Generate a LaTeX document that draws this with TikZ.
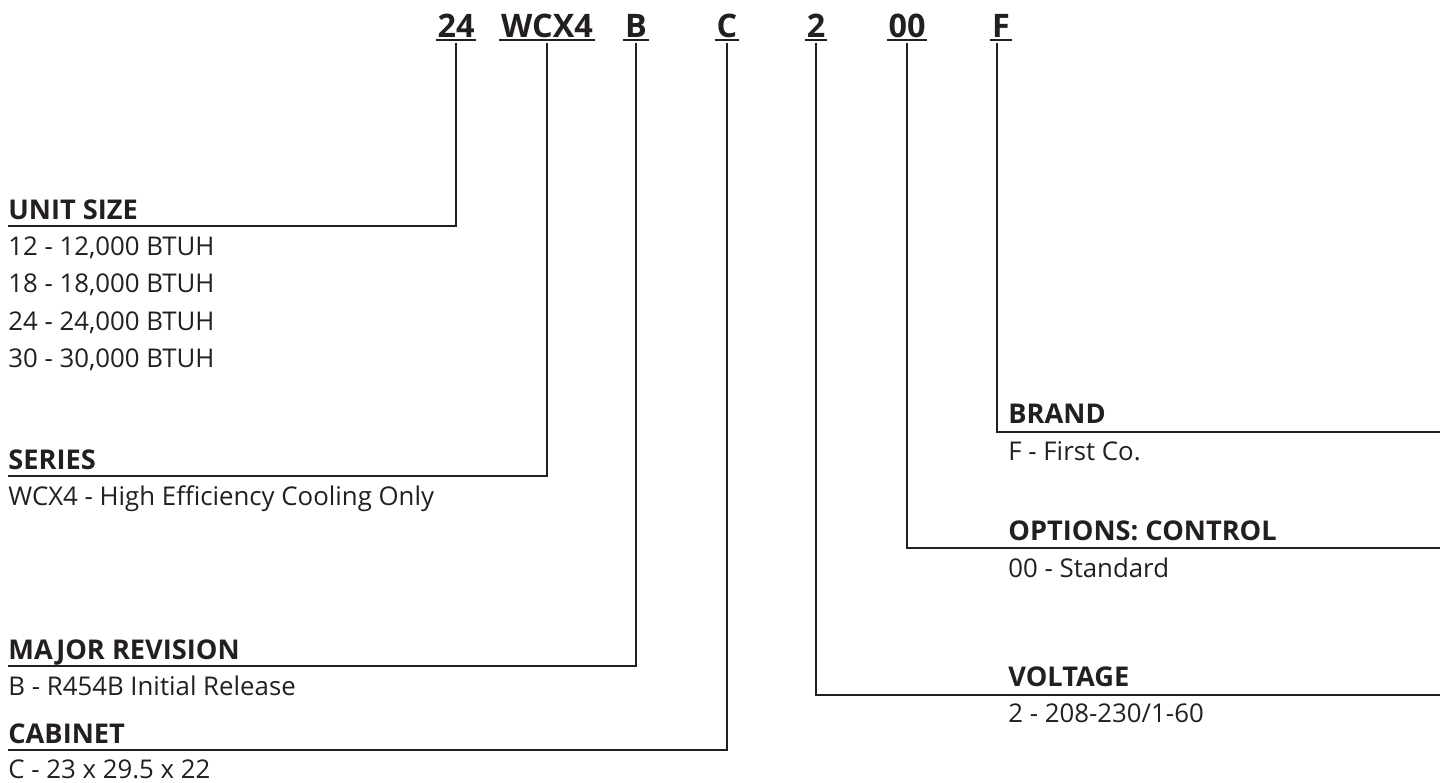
\documentclass[tikz,border=0pt]{standalone}
\usepackage{fontspec}
\setmainfont{Open Sans}
\usepackage{xcolor}
\usepackage{tikz}
\usetikzlibrary{positioning}
\definecolor{ink}{HTML}{231F20}

\tikzset{
    code/.style={font=\fontsize{16.2}{18}\selectfont\bfseries,text=ink,inner xsep=0.7pt,inner ysep=1.25pt,anchor=base},
    head/.style={font=\fontsize{13.6}{15}\selectfont\bfseries,text=ink,inner sep=0pt,anchor=base west},
    item/.style={font=\fontsize{12.9}{15}\selectfont,text=ink,inner sep=0pt,anchor=base west},
    lead/.style={draw=ink,line width=1.4pt},
    uline/.style={draw=ink,line width=1.1pt}
}

\begin{document}
\begin{tikzpicture}[x=0.5pt,y=-0.5pt]
    \useasboundingbox (0,0) rectangle (1440,782);
        % model number
        \node[code] (c24) at (456,37) {24};
        \node[code] (cwcx) at (547,37) {WCX4};
        \node[code] (cb) at (636,37) {B};
        \node[code] (cc) at (727,37) {C};
        \node[code] (cv) at (816,37) {2};
        \node[code] (coo) at (907,37) {00};
        \node[code] (cf) at (1001,37) {F};
        \draw[uline] (c24.south west)--(c24.south east);
        \draw[uline] (cwcx.south west)--(cwcx.south east);
        \draw[uline] (cb.south west)--(cb.south east);
        \draw[uline] (cc.south west)--(cc.south east);
        \draw[uline] (cv.south west)--(cv.south east);
        \draw[uline] (coo.south west)--(coo.south east);
        \draw[uline] (cf.south west)--(cf.south east);
        % left side
        \coordinate (unitL) at (8,226);
        \node[head] (unit) at (8,219) {UNIT SIZE};
        \node[item] (unit1) at (8,255) {12 - 12,000 BTUH};
        \node[item] (unit2) at (8,292.5) {18 - 18,000 BTUH};
        \node[item] (unit3) at (8,330) {24 - 24,000 BTUH};
        \node[item] (unit4) at (8,367.5) {30 - 30,000 BTUH};
        \coordinate (seriesL) at (8,476);
        \node[head] (series) at (8,469) {SERIES};
        \node[item] (series1) at (8,505) {WCX4 - High Efficiency Cooling Only};
        \coordinate (revL) at (8,666);
        \node[head] (rev) at (8,659) {MAJOR REVISION};
        \node[item] (rev1) at (8,695) {B - R454B Initial Release};
        \coordinate (cabL) at (8,750);
        \node[head] (cab) at (8,743) {CABINET};
        \node[item] (cab1) at (8,778) {C - 23 x 29.5 x 22};
        % right side
        \coordinate (brandK) at (997,432);
        \coordinate (brandR) at (1440,432);
        \node[head] (brand) at (1008,423) {BRAND};
        \node[item] (brand1) at (1008,460) {F - First Co.};
        \coordinate (ctrlR) at (1440,548);
        \node[head] (ctrl) at (1008,540) {OPTIONS: CONTROL};
        \node[item] (ctrl1) at (1008,577) {00 - Standard};
        \coordinate (voltR) at (1440,695);
        \node[head] (volt) at (1008,686) {VOLTAGE};
        \node[item] (volt1) at (1008,722) {2 - 208-230/1-60};
        % leaders
        \draw[lead] ([yshift=-1.5pt]c24.south) |- (unitL);
        \draw[lead] ([yshift=-1.5pt]cwcx.south) |- (seriesL);
        \draw[lead] ([yshift=-1.5pt]cb.south) |- (revL);
        \draw[lead] ([yshift=-1.5pt]cc.south) |- (cabL);
        \draw[lead] ([yshift=-1.5pt]cv.south) |- (voltR);
        \draw[lead] ([yshift=-1.5pt]coo.south) |- (ctrlR);
        \draw[lead] ([yshift=-1.5pt]cf.south -| brandK)--(brandK)--(brandR);
    \end{tikzpicture}
\end{document}
